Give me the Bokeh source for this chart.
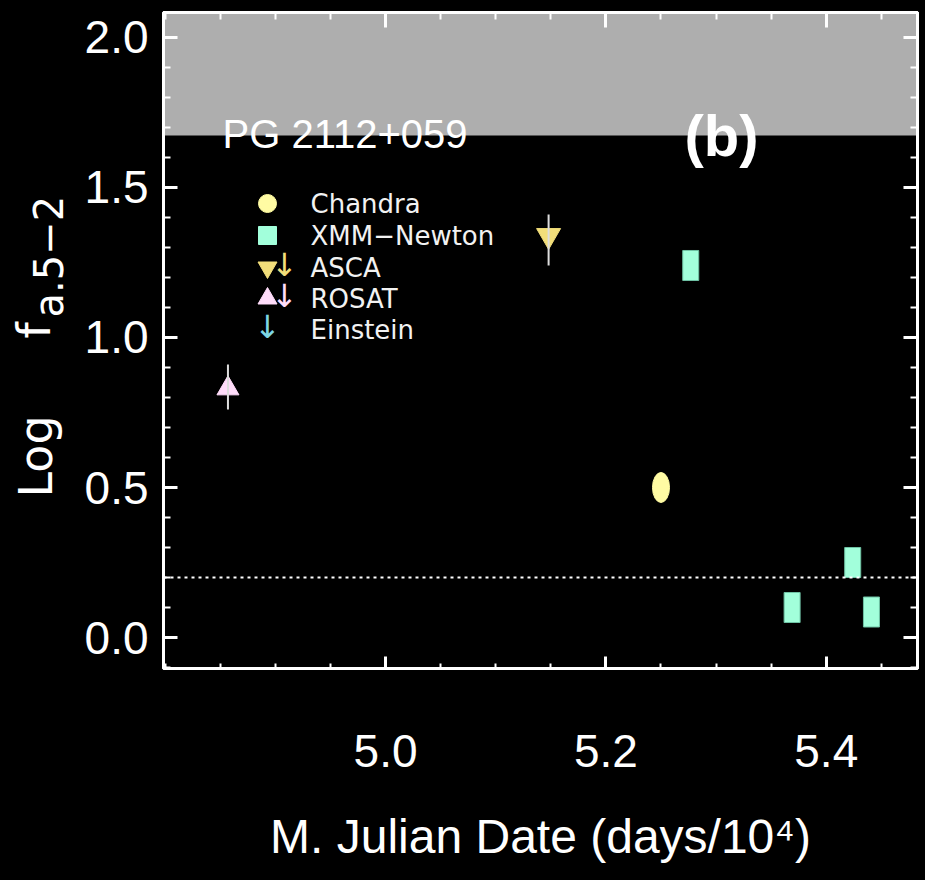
import numpy as np
from bokeh.plotting import figure
from bokeh.layouts import row
from bokeh.models import (Range1d, FixedTicker, PrintfTickFormatter, LinearAxis,
                          BoxAnnotation, Span, Label)
from bokeh.embed import file_html
from bokeh.resources import INLINE

# ---------------- data ----------------
chandra_mjd = [5.250]
chandra_logf = [0.50]

xmm_mjd = [5.277, 5.369, 5.424, 5.441]
xmm_logf = [1.24, 0.10, 0.25, 0.085]

asca_mjd = [5.148]
asca_logf = [1.34]
asca_lo = [1.24]
asca_hi = [1.41]

rosat_mjd = [4.857]
rosat_logf = [0.83]
rosat_lo = [0.76]
rosat_hi = [0.91]

x_ticks = [5.0, 5.2, 5.4]
y_ticks = [0.0, 0.5, 1.0, 1.5, 2.0]
x_minor = [4.80, 4.85, 4.90, 4.95, 5.05, 5.10, 5.15, 5.25, 5.30, 5.35, 5.45]
y_minor = [-0.1, 0.1, 0.2, 0.3, 0.4, 0.6, 0.7, 0.8, 0.9, 1.1, 1.2, 1.3, 1.4,
           1.6, 1.7, 1.8, 1.9]

x_lim = (4.7985, 5.4828)
y_lim = (-0.1033, 2.0833)
band_bottom = 1.673
ref_level = 0.2

legend_labels = ["Chandra", "XMM\u2212Newton", "ASCA", "ROSAT", "Einstein"]

# ---------------- styles ----------------
C_CHANDRA = "#fffba3"
C_XMM = "#a2ffdb"
C_ASCA = "#f2de7a"
C_ROSAT = "#ffdcfa"
C_EINSTEIN = "#7ed6e4"
TICK_FONT = "Liberation Sans"
TEXT_FONT = "DejaVu Sans"

TOTAL_W, TOTAL_H = 925, 880
LW = 75                      # narrow left figure holding the y label
W = TOTAL_W - LW
H = TOTAL_H
FRAME_L, FRAME_R, FRAME_T, FRAME_B = 163, 917, 12, 668   # page pixels
ML = FRAME_L - LW
MR = TOTAL_W - FRAME_R
MT = FRAME_T
MB = TOTAL_H - FRAME_B
FW = FRAME_R - FRAME_L
FH = FRAME_B - FRAME_T

p = figure(width=W, height=H, output_backend="svg", toolbar_location=None,
           x_range=Range1d(*x_lim), y_range=Range1d(*y_lim),
           min_border_left=ML, min_border_right=MR, min_border_top=MT,
           min_border_bottom=MB, background_fill_color="black",
           border_fill_color="black", outline_line_color="white",
           outline_line_width=3)
p.xgrid.visible = False
p.ygrid.visible = False


def base_axis(ax):
    ax.axis_line_color = "white"
    ax.axis_line_width = 3
    ax.major_tick_line_color = "white"
    ax.minor_tick_line_color = "white"
    ax.major_tick_line_width = 3
    ax.minor_tick_line_width = 2
    ax.major_tick_out = 0
    ax.minor_tick_out = 0


xa = p.xaxis[0]
base_axis(xa)
xa.ticker = FixedTicker(ticks=x_ticks, minor_ticks=x_minor)
xa.formatter = PrintfTickFormatter(format="%.1f")
xa.major_tick_in = 12
xa.minor_tick_in = 5
xa.major_label_text_color = "white"
xa.major_label_text_font = TICK_FONT
xa.major_label_text_font_size = "46px"
xa.major_label_standoff = 66
xa.axis_label = "M. Julian Date (days/10\u2074)"
xa.axis_label_text_color = "white"
xa.axis_label_text_font = TICK_FONT
xa.axis_label_text_font_size = "48px"
xa.axis_label_text_font_style = "normal"
xa.axis_label_standoff = 40

ya = p.yaxis[0]
base_axis(ya)
ya.ticker = FixedTicker(ticks=y_ticks, minor_ticks=y_minor)
ya.formatter = PrintfTickFormatter(format="%.1f")
ya.major_tick_in = 14
ya.minor_tick_in = 7
ya.major_label_text_color = "white"
ya.major_label_text_font = TICK_FONT
ya.major_label_text_font_size = "46px"
ya.major_label_standoff = 15


# mirrored tick marks on the top and right frame edges (label-free axes)
def mirror_axis(positions, length, side):
    ax = LinearAxis(ticker=FixedTicker(ticks=[], minor_ticks=positions),
                    major_label_standoff=0)
    base_axis(ax)
    ax.minor_tick_in = length
    ax.minor_tick_line_width = 3 if length > 10 else 2
    p.add_layout(ax, side)


mirror_axis(x_ticks, 15, "above")
mirror_axis(x_minor, 7, "above")
mirror_axis(y_ticks, 14, "right")
mirror_axis(y_minor, 7, "right")

# grey band and reference line
p.add_layout(BoxAnnotation(bottom=band_bottom, fill_color="#aeaeae",
                           fill_alpha=1.0, line_alpha=0, level="underlay"))
p.add_layout(Span(location=ref_level, dimension="width", line_color="white",
                  line_width=2, line_dash="3 4"))

# data marks
p.ellipse(x=chandra_mjd, y=chandra_logf, width=17, height=30,
          width_units="screen", height_units="screen",
          fill_color=C_CHANDRA, line_color=C_CHANDRA)
p.rect(x=xmm_mjd, y=xmm_logf, width=16, height=30, width_units="screen",
       height_units="screen", fill_color=C_XMM, line_color="#6fc2a4",
       line_width=1)
p.scatter(x=asca_mjd, y=asca_logf, marker="inverted_triangle", size=24,
          fill_color=C_ASCA, line_color=C_ASCA)
p.segment(x0=asca_mjd, y0=asca_lo, x1=asca_mjd, y1=asca_hi,
          line_color="#dddddd", line_width=2)
p.scatter(x=rosat_mjd, y=rosat_logf, marker="triangle", size=22,
          fill_color=C_ROSAT, line_color=C_ROSAT)
p.segment(x0=rosat_mjd, y0=rosat_lo, x1=rosat_mjd, y1=rosat_hi,
          line_color="#dddddd", line_width=2)


# ---------------- texts ----------------
def lab(fig, text, sx, sy, size, color="white", font=TEXT_FONT, align="left",
        baseline="alphabetic", angle=0.0, style="normal"):
    fig.add_layout(Label(x=sx, y=sy, x_units="screen", y_units="screen",
                         text=text, text_color=color, text_font=font,
                         text_font_size=size, text_align=align,
                         text_baseline=baseline, angle=angle,
                         text_font_style=style))


def fx(page_x):
    return page_x - FRAME_L


def fy(page_y):
    return FRAME_B - page_y


lab(p, "PG 2112+059", fx(222), fy(133), "40px", font=TICK_FONT)
lab(p, "(b)", fx(721), fy(135), "58px", font=TICK_FONT, align="center",
    baseline="middle", style="bold")

# legend
row_y = [203, 235, 267, 298, 329]
text_x = 310
for name, ry in zip(legend_labels, row_y):
    lab(p, name, fx(text_x), fy(ry), "26px", color="#f2f2f2")


def x_at(page_x):
    return x_lim[0] + (page_x - FRAME_L) / FW * (x_lim[1] - x_lim[0])


def y_at(page_y):
    return y_lim[1] - (page_y - FRAME_T) / FH * (y_lim[1] - y_lim[0])


mx = x_at(267)
p.scatter(x=[mx], y=[y_at(row_y[0])], marker="circle", size=18,
          fill_color=C_CHANDRA, line_color=C_CHANDRA)
p.scatter(x=[mx], y=[y_at(row_y[1])], marker="square", size=18,
          fill_color=C_XMM, line_color=C_XMM)
p.scatter(x=[mx], y=[y_at(row_y[2])], marker="inverted_triangle", size=19,
          fill_color=C_ASCA, line_color=C_ASCA)
p.scatter(x=[mx], y=[y_at(row_y[3])], marker="triangle", size=19,
          fill_color=C_ROSAT, line_color=C_ROSAT)
lab(p, "\u2193", fx(284), fy(row_y[2] - 3), "32px", color=C_ASCA,
    align="center", baseline="middle")
lab(p, "\u2193", fx(284), fy(row_y[3] - 3), "32px", color=C_ROSAT,
    align="center", baseline="middle")
lab(p, "\u2193", fx(267), fy(row_y[4] - 3), "32px", color=C_EINSTEIN,
    align="center", baseline="middle")

# ---------------- left strip: rotated y-axis label ----------------
# (its frame is aligned with the main frame by the row layout)
q = figure(width=LW, height=H, output_backend="svg", toolbar_location=None,
           x_range=Range1d(0, 1), y_range=Range1d(0, 1),
           x_axis_location=None, y_axis_location=None,
           min_border_left=0, min_border_right=0, min_border_top=MT,
           min_border_bottom=MB, background_fill_color="black",
           border_fill_color="black", outline_line_color=None)
q.xgrid.visible = False
q.ygrid.visible = False
lab(q, "Log", 35, fy(456), "46px", align="center", angle=np.pi / 2)
lab(q, "f", 33, fy(330), "46px", align="center", angle=np.pi / 2)
lab(q, "a.5\u22122", 48, fy(317), "40px", align="left", angle=np.pi / 2)

layout = row(q, p)
html = file_html(layout, INLINE)
html = html.replace("<head>", "<head><style>html,body{background:#000;}</style>", 1)
open("out.html", "w").write(html)
